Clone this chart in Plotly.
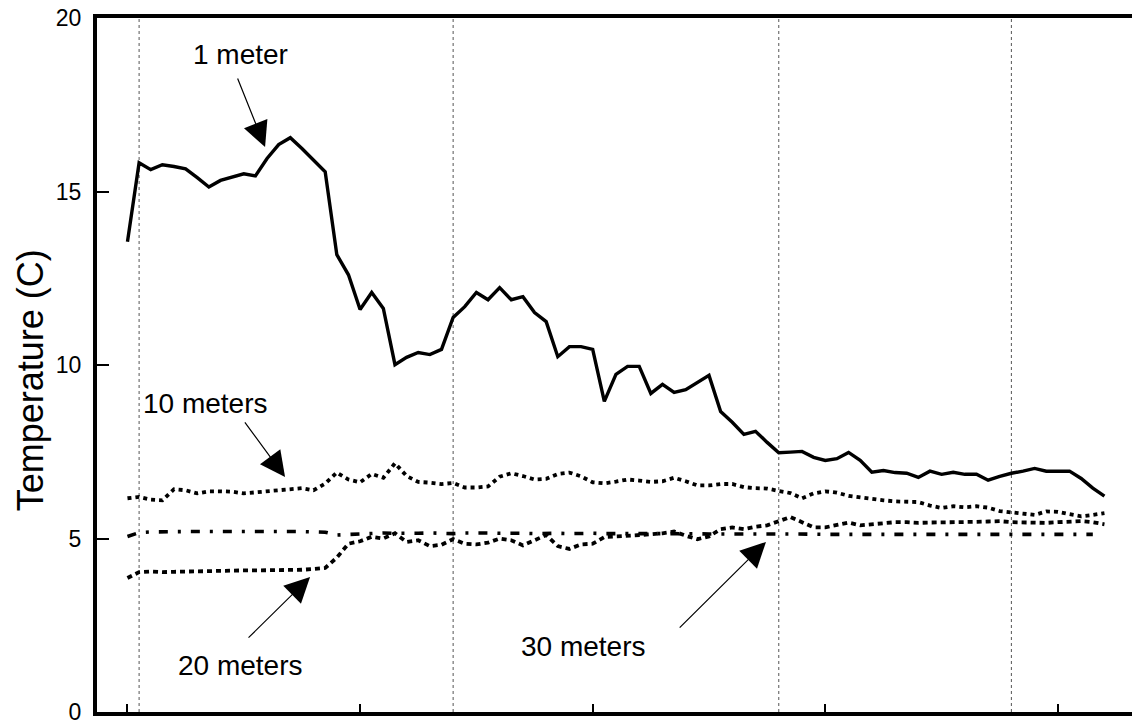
import plotly.graph_objects as go

# ---- data (day index, temperature in C) ----
days = list(range(85))

temp_1m = [13.55, 15.83, 15.63, 15.77, 15.72, 15.65, 15.40, 15.13, 15.32, 15.42,
           15.51, 15.45, 15.95, 16.35, 16.55, 16.24, 15.92, 15.57, 13.18, 12.60,
           11.60, 12.09, 11.63, 10.01, 10.22, 10.36, 10.30, 10.45, 11.37, 11.68,
           12.09, 11.88, 12.23, 11.88, 11.97, 11.51, 11.25, 10.24, 10.53, 10.53,
           10.45, 8.95, 9.73, 9.96, 9.96, 9.18, 9.44, 9.21, 9.29, 9.50,
           9.70, 8.66, 8.35, 8.00, 8.09, 7.77, 7.47, 7.49, 7.51, 7.34,
           7.25, 7.30, 7.48, 7.25, 6.91, 6.96, 6.90, 6.88, 6.76, 6.94,
           6.85, 6.91, 6.85, 6.85, 6.68, 6.79, 6.88, 6.94, 7.02, 6.94,
           6.94, 6.94, 6.73, 6.45, 6.22]

temp_10m = [6.16, 6.20, 6.12, 6.10, 6.42, 6.39, 6.30, 6.36, 6.36, 6.35,
            6.30, 6.33, 6.36, 6.39, 6.44, 6.45, 6.39, 6.58, 6.90, 6.70,
            6.62, 6.86, 6.75, 7.17, 6.80, 6.63, 6.61, 6.57, 6.60, 6.47,
            6.47, 6.50, 6.78, 6.88, 6.80, 6.70, 6.72, 6.86, 6.90, 6.79,
            6.62, 6.59, 6.64, 6.70, 6.67, 6.63, 6.65, 6.75, 6.65, 6.53,
            6.53, 6.57, 6.57, 6.48, 6.45, 6.44, 6.37, 6.31, 6.16, 6.30,
            6.36, 6.32, 6.23, 6.18, 6.14, 6.10, 6.07, 6.07, 6.05, 5.95,
            5.88, 5.93, 5.90, 5.93, 5.89, 5.79, 5.76, 5.71, 5.68, 5.78,
            5.77, 5.70, 5.64, 5.68, 5.73]

temp_20m = [3.86, 4.03, 4.05, 4.03, 4.04, 4.05, 4.05, 4.06, 4.07, 4.07,
            4.08, 4.08, 4.08, 4.09, 4.10, 4.10, 4.12, 4.15, 4.45, 4.85,
            4.92, 5.05, 5.00, 5.15, 4.90, 4.95, 4.78, 4.82, 4.98, 4.85,
            4.83, 4.88, 5.00, 4.95, 4.80, 4.95, 5.10, 4.78, 4.70, 4.83,
            4.85, 5.04, 5.06, 5.06, 5.10, 5.12, 5.15, 5.20, 5.08, 4.98,
            5.06, 5.27, 5.32, 5.27, 5.34, 5.38, 5.50, 5.62, 5.47, 5.32,
            5.32, 5.39, 5.46, 5.38, 5.41, 5.44, 5.47, 5.47, 5.45, 5.46,
            5.46, 5.47, 5.47, 5.48, 5.49, 5.50, 5.47, 5.46, 5.44, 5.45,
            5.47, 5.49, 5.50, 5.47, 5.41]

temp_30m = [5.06, 5.17, 5.19, 5.20, 5.21, 5.20, 5.20, 5.19, 5.20, 5.20,
            5.19, 5.20, 5.20, 5.19, 5.20, 5.20, 5.18, 5.18, 5.10, 5.12,
            5.14, 5.15, 5.16, 5.15, 5.14, 5.15, 5.16, 5.15, 5.14, 5.16,
            5.17, 5.16, 5.15, 5.16, 5.15, 5.14, 5.15, 5.15, 5.14, 5.15,
            5.15, 5.14, 5.13, 5.14, 5.14, 5.13, 5.14, 5.14, 5.13, 5.14,
            5.13, 5.13, 5.14, 5.13, 5.13, 5.12, 5.13, 5.13, 5.12, 5.13,
            5.12, 5.12, 5.13, 5.12, 5.12, 5.12, 5.13, 5.12, 5.12, 5.12,
            5.12, 5.12, 5.13, 5.12, 5.12, 5.12, 5.12, 5.12, 5.12, 5.12,
            5.12, 5.12, 5.12, 5.12]

y_ticks = [0, 5, 10, 15, 20]
x_ticks = [0, 20, 40, 60, 80]
grid_days = [1, 28, 56, 76]

FONT = "Liberation Sans, Arial, sans-serif"

fig = go.Figure()
fig.add_trace(go.Scatter(x=days, y=temp_1m, mode="lines", name="1 meter",
                         line=dict(color="black", width=3.4)))
fig.add_trace(go.Scatter(x=days, y=temp_10m, mode="lines", name="10 meters",
                         line=dict(color="black", width=3.8, dash="4px,4px")))
fig.add_trace(go.Scatter(x=days, y=temp_20m, mode="lines", name="20 meters",
                         line=dict(color="black", width=3.8, dash="5px,4px")))
fig.add_trace(go.Scatter(x=days[:len(temp_30m)], y=temp_30m, mode="lines", name="30 meters",
                         line=dict(color="black", width=3.6, dash="9px,10px,3px,10px")))

for gd in grid_days:
    fig.add_shape(type="line", xref="x", yref="paper", x0=gd, x1=gd, y0=0, y1=1,
                  line=dict(color="#555", width=1, dash="dot"), layer="below")

# labels with arrows: text, text x, text y, tail x, tail y, head x, head y
labels = [
    ("1 meter", 9.7, 18.96, 9.42, 18.30, 11.83, 16.28),
    ("10 meters", 6.75, 8.88, 10.0, 8.39, 13.55, 6.77),
    ("20 meters", 9.76, 1.33, 10.28, 2.10, 15.7, 3.89),
    ("30 meters", 39.2, 1.90, 47.35, 2.39, 54.9, 4.90),
]
for txt, tx, ty, ax0, ay0, hx, hy in labels:
    fig.add_annotation(x=tx, y=ty, xref="x", yref="y", text=txt, showarrow=False,
                       font=dict(family=FONT, size=28, color="black"))
    fig.add_annotation(x=hx, y=hy, ax=ax0, ay=ay0, xref="x", yref="y", axref="x", ayref="y",
                       text="", showarrow=True, arrowhead=2, arrowsize=4.2, arrowwidth=1.2,
                       arrowcolor="black")

fig.add_annotation(text="Temperature (C)", xref="paper", yref="paper", x=0, y=0.478,
                   xanchor="center", yanchor="middle", xshift=-67, textangle=-90,
                   showarrow=False, font=dict(family=FONT, size=36, color="black"))

fig.update_layout(
    width=1132, height=724,
    margin=dict(l=97, r=0, t=18, b=12),
    paper_bgcolor="white", plot_bgcolor="white",
    showlegend=False,
    font=dict(family=FONT, color="black"),
)
fig.update_xaxes(range=[-2.62, 86.37], showgrid=False, zeroline=False,
                 showline=True, linewidth=4, linecolor="black", mirror=True,
                 ticks="inside", ticklen=8, tickwidth=1.5, tickcolor="black",
                 tickvals=x_ticks, showticklabels=False)
fig.update_yaxes(range=[0, 20], showgrid=False, zeroline=False,
                 showline=True, linewidth=4, linecolor="black", mirror=False,
                 ticks="inside", ticklen=12, tickwidth=1.5, tickcolor="black",
                 tickvals=y_ticks, ticktext=[str(v) for v in y_ticks],
                 tickfont=dict(family=FONT, size=23, color="black"),
                 ticklabelstandoff=7, ticklabeloverflow="allow")

fig.write_html("out.html")
